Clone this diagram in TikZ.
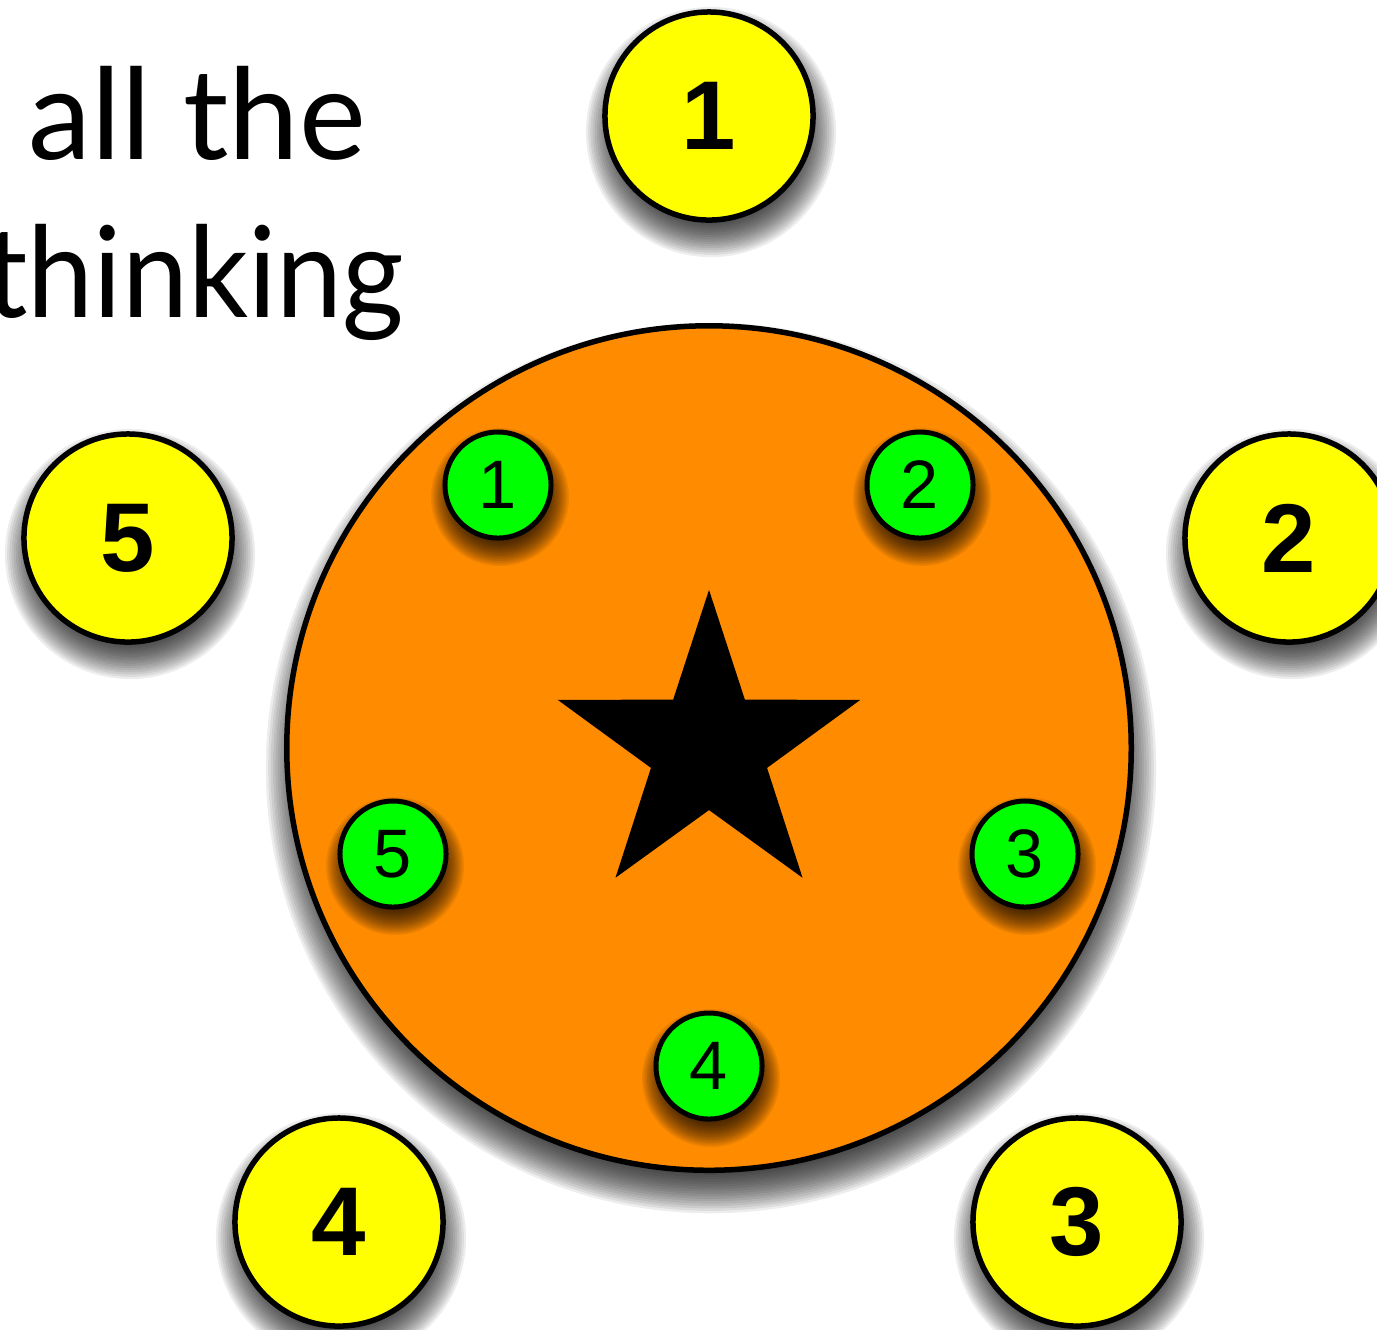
\documentclass[tikz,border=0pt]{standalone}
\usepackage{fontspec}
\setmainfont{Liberation Sans}
\newfontfamily\slidefont{Lato}
\newfontfamily\slidefontnarrow[FakeStretch=0.935]{Lato}
\usetikzlibrary{calc}
\definecolor{discorange}{RGB}{255,140,0}
\definecolor{discgreen}{RGB}{0,255,0}
\definecolor{discyellow}{RGB}{255,255,0}
\tikzset{
  shadelayer/.style={fill=black, fill opacity=0.07, draw=none},
  bigdisc/.style={circle, draw=black, line width=0.055cm, fill=discyellow, minimum size=2.08cm, inner sep=0pt, font=\fontsize{27.8}{30}\selectfont\bfseries},
  smalldisc/.style={circle, draw=black, line width=0.05cm, fill=discgreen, minimum size=1.06cm, inner sep=0pt, font=\fontsize{19.5}{22}\selectfont},
  tabledisc/.style={circle, draw=black, line width=0.055cm, fill=discorange, minimum size=8.44cm, inner sep=0pt},
  bigtext/.style={font=\slidefont\fontsize{36}{40}\selectfont, inner sep=0pt},
  bigtextnarrow/.style={font=\slidefontnarrow\fontsize{36}{40}\selectfont, inner sep=0pt}
}
% #1 centre coordinate, #2 radius (cm), #3 blur half-width (cm), #4 downward offset (cm)
\newcommand\dropshade[4]{%
  \foreach \k in {0,...,19}{%
    \path[shadelayer] ($(#1)+(0.02cm,-#4cm)$) circle ({(#2-#3+\k*#3/9.5)*1cm});
  }%
}
\begin{document}
\begin{tikzpicture}[x=0.01cm, y=-0.01cm]
\useasboundingbox (0,0) rectangle (1377,1329);
\clip (0,0) rectangle (1377,1329);
\node[bigtext, anchor=base east] (l1) at (367,159) {all the};
\node[bigtextnarrow, anchor=base east] (l2) at (405,317) {thinking};
% centres
\coordinate (ct) at (709,748);
\coordinate (cg1) at (498,485);
\coordinate (cg2) at (920,485);
\coordinate (cg3) at (1025,854);
\coordinate (cg4) at (709,1066);
\coordinate (cg5) at (393,854);
\coordinate (cy1) at (709,116);
\coordinate (cy2) at (1289,538);
\coordinate (cy3) at (1077,1222);
\coordinate (cy4) at (339,1222);
\coordinate (cy5) at (128,538);
% orange disc
\dropshade{ct}{4.22}{0.23}{0.2}
\node[tabledisc] (tbl) at (ct) {};
\coordinate (sc) at (709,749);
\fill[black, line join=round, line width=0.02cm]
  ($(sc)+(90:1.59cm)$)
  -- ($(sc)+(126:0.61cm)$)
  -- ($(sc)+(162:1.59cm)$)
  -- ($(sc)+(198:0.61cm)$)
  -- ($(sc)+(234:1.59cm)$)
  -- ($(sc)+(270:0.61cm)$)
  -- ($(sc)+(306:1.59cm)$)
  -- ($(sc)+(342:0.61cm)$)
  -- ($(sc)+(18:1.59cm)$)
  -- ($(sc)+(54:0.61cm)$)
  -- cycle;
% green discs
\foreach \g in {1,...,5}{\dropshade{cg\g}{0.53}{0.16}{0.12}}
\node[smalldisc] (g1) at (cg1) {1};
\node[smalldisc] (g2) at (cg2) {2};
\node[smalldisc] (g3) at (cg3) {3};
\node[smalldisc] (g4) at (cg4) {4};
\node[smalldisc] (g5) at (cg5) {5};
% yellow discs
\foreach \y in {1,...,5}{\dropshade{cy\y}{1.04}{0.21}{0.16}}
\node[bigdisc] (y1) at (cy1) {1};
\node[bigdisc] (y2) at (cy2) {2};
\node[bigdisc] (y3) at (cy3) {3};
\node[bigdisc] (y4) at (cy4) {4};
\node[bigdisc] (y5) at (cy5) {5};
\end{tikzpicture}
\end{document}
